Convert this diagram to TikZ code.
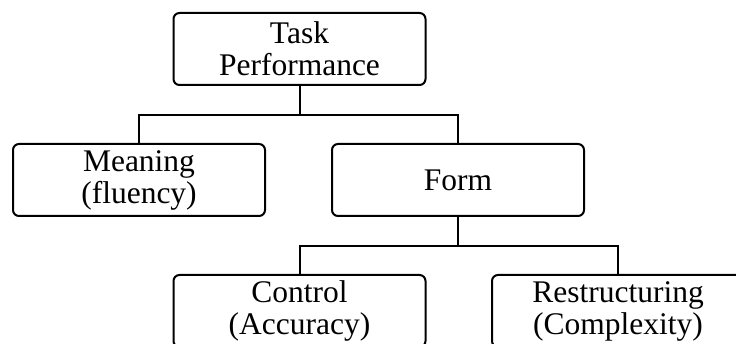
\documentclass[tikz,border=0pt]{standalone}
\usepackage{fontspec}
\setmainfont{Liberation Serif}
\begin{document}
\begin{tikzpicture}[x=1pt,y=-1pt,
  box/.style={draw=black, line width=2pt, rounded corners=6pt, minimum width=252pt, minimum height=72pt,
    align=center, inner sep=0pt, font=\fontsize{31.5}{32}\selectfont},
  link/.style={draw=black, line width=2pt}]
\useasboundingbox (0,0) rectangle (736,344);
\clip (0,0) rectangle (736,344);
\node[box] (task) at (299.5,49) {Task\\Performance};
\node[box] (meaning) at (139,180) {Meaning\\(fluency)};
\node[box] (form) at (458,180) {Form};
\node[box] (control) at (299.5,311) {Control\\(Accuracy)};
\node[box] (restr) at (618,311) {Restructuring\\(Complexity)};
\coordinate (b1) at (0,115);
\coordinate (b2) at (0,246);
\draw[link] (task.south) -- (task.south |- b1);
\draw[link] (meaning.north) -- (meaning.north |- b1) -- (form.north |- b1) -- (form.north);
\draw[link] (form.south) -- (form.south |- b2);
\draw[link] (control.north) -- (control.north |- b2) -- (restr.north |- b2) -- (restr.north);
\end{tikzpicture}
\end{document}
